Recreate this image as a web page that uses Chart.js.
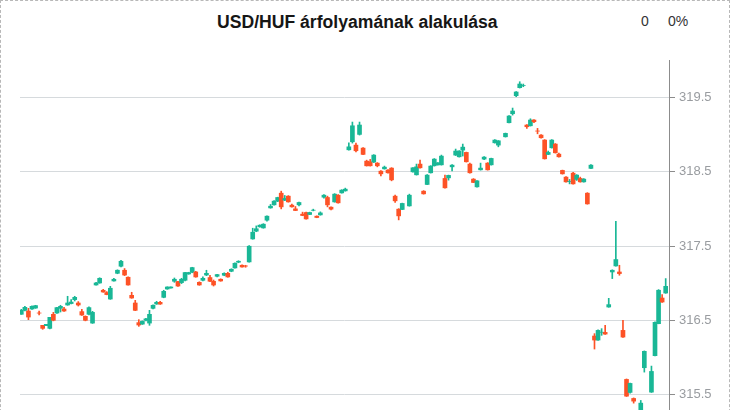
<!DOCTYPE html>
<html>
<head>
<meta charset="utf-8">
<script src="https://cdn.jsdelivr.net/npm/chart.js@4.4.1/dist/chart.umd.min.js"></script>
<style>
  html, body { margin: 0; padding: 0; background: #ffffff; overflow: hidden; }
  #frame { position: absolute; left: 0; top: 0; width: 728px; height: 470px; border: 1px dashed #b8b8b8; }
  #title { position: absolute; left: 217px; top: 12px; white-space: nowrap; font: bold 17.6px "Liberation Sans", Arial, sans-serif; color: #161616; }
  .info { position: absolute; top: 13px; white-space: nowrap; font: 14px "Liberation Sans", Arial, sans-serif; color: #333333; }
  #wrap { position: absolute; left: 0; top: 0; width: 730px; height: 460px; }
</style>
</head>
<body>
<div id="frame"></div>
<div id="title">USD/HUF árfolyamának alakulása</div>
<div class="info" style="left:641px">0</div>
<div class="info" style="left:668px">0%</div>
<div id="wrap"><canvas id="c" width="730" height="460"></canvas></div>
<script>
// ---- data ----
const openP = [316.582,316.635,316.626,316.653,316.666,316.600,316.434,316.429,316.393,316.582,
316.599,316.662,316.653,316.707,316.726,316.779,316.734,316.618,316.555,316.582,
316.464,316.976,317.003,316.905,316.874,316.787,317.030,317.133,317.228,317.174,
317.080,316.837,316.734,316.470,316.450,316.501,316.464,316.662,316.720,316.743,
316.810,316.922,316.936,317.026,317.022,317.008,317.039,317.124,317.147,317.151,
317.012,317.039,317.110,317.076,317.026,317.093,317.053,317.107,317.133,317.160,
317.205,317.282,317.241,317.232,317.286,317.595,317.699,317.757,317.743,317.847,
318.012,318.053,318.103,318.210,318.116,318.170,318.049,317.999,318.053,317.928,
317.950,317.924,317.980,317.901,317.918,318.156,318.152,318.022,318.093,318.183,
318.214,318.241,318.793,318.901,318.856,319.000,318.816,318.641,318.632,318.628,
318.614,318.506,318.537,318.520,318.547,318.170,317.995,317.991,null,318.039,
318.497,318.457,318.601,318.237,318.327,318.484,318.578,318.591,318.591,318.408,
318.416,318.564,318.722,318.699,318.789,318.758,318.601,318.399,318.295,318.524,
318.668,318.614,318.591,318.887,318.856,null,318.968,319.157,319.278,319.520,
319.628,319.655,319.126,319.116,319.193,319.046,318.991,318.924,318.731,318.820,
318.870,318.735,318.516,318.426,318.365,318.479,318.395,318.408,318.362,318.210,
318.543,316.290,316.236,316.340,316.339,316.680,317.151,317.232,317.151,316.366,
315.707,315.532,315.451,null,315.182,315.864,null,315.536,316.026,316.456,
316.801,316.868];
const highP = [316.649,316.689,316.662,316.696,316.703,316.626,316.434,316.447,316.541,316.608,
316.676,316.703,316.676,316.824,316.779,316.824,316.753,316.649,316.561,316.683,
316.622,317.012,317.073,316.918,316.887,316.958,317.066,317.180,317.308,317.197,
317.087,316.878,316.770,316.510,316.494,316.528,316.635,316.709,316.757,316.757,
316.905,316.952,316.952,317.070,317.026,317.066,317.147,317.147,317.214,317.160,
317.019,317.084,317.174,317.107,317.043,317.120,317.059,317.140,317.147,317.194,
317.275,317.302,317.248,317.241,317.504,317.739,317.770,317.786,317.800,317.907,
318.058,318.109,318.156,318.237,318.179,318.177,318.062,318.031,318.089,317.955,
317.955,317.955,317.995,317.905,317.959,318.190,318.170,318.028,318.204,318.190,
318.257,318.278,318.887,319.166,318.883,319.166,318.823,318.654,318.664,318.728,
318.621,318.513,318.574,318.526,318.553,318.183,318.002,318.076,null,318.197,
318.553,318.601,318.654,318.244,318.459,318.580,318.675,318.621,318.722,318.453,
318.453,318.594,318.803,318.782,318.870,318.762,318.614,318.406,318.380,318.614,
318.702,318.621,318.681,318.930,318.917,null,319.018,319.254,319.354,319.576,
319.708,319.677,319.133,319.210,319.200,319.081,318.998,318.930,318.776,318.930,
318.877,318.749,318.520,318.432,318.395,318.489,318.459,318.426,318.406,318.217,
318.594,316.322,316.373,316.389,316.434,316.797,317.180,317.833,317.241,316.501,
315.713,315.659,315.458,null,315.424,316.090,null,315.886,316.481,316.914,
316.847,317.062];
const lowP = [316.582,316.626,316.510,316.649,316.662,316.572,316.380,316.429,316.386,316.494,
316.595,316.613,316.622,316.703,316.723,316.761,316.693,316.568,316.494,316.575,
316.460,316.972,316.999,316.878,316.844,316.783,317.026,317.127,317.218,317.102,
316.972,316.797,316.631,316.420,316.446,316.494,316.434,316.655,316.716,316.716,
316.804,316.918,316.932,317.012,316.958,316.995,317.032,317.120,317.140,317.080,
316.972,317.032,317.102,317.019,316.962,317.086,317.026,317.100,317.080,317.154,
317.201,317.275,317.214,317.214,317.282,317.591,317.692,317.753,317.739,317.833,
318.008,318.048,318.096,317.999,318.109,318.089,318.022,317.975,318.039,317.907,
317.860,317.921,317.972,317.880,317.914,318.143,318.026,317.985,318.089,318.076,
318.210,318.237,318.789,318.883,318.766,318.991,318.728,318.574,318.574,318.621,
318.564,318.443,318.533,318.480,318.376,318.085,317.851,317.988,null,318.035,
318.493,318.453,318.547,318.197,318.324,318.480,318.574,318.587,318.587,318.278,
318.385,318.510,318.716,318.695,318.709,318.628,318.480,318.351,318.291,318.520,
318.661,318.520,318.587,318.883,318.833,null,318.964,319.153,319.260,319.506,
319.623,319.641,319.081,319.112,319.157,319.008,318.951,318.668,318.728,318.816,
318.749,318.695,318.466,318.358,318.335,318.331,318.381,318.358,318.358,318.062,
318.539,316.115,316.232,316.299,316.312,316.676,317.062,317.228,317.107,316.272,
315.478,315.522,315.388,null,315.155,315.805,null,315.532,316.023,316.454,
316.743,316.864];
const closeP = [316.635,316.676,316.545,316.689,316.699,316.598,316.393,316.447,316.541,316.501,
316.672,316.689,316.626,316.734,316.747,316.810,316.707,316.572,316.501,316.672,
316.608,317.003,317.066,316.882,316.847,316.932,317.053,317.174,317.295,317.110,
316.976,316.801,316.635,316.438,316.487,316.521,316.582,316.703,316.743,316.720,
316.891,316.949,316.949,317.053,316.962,317.053,317.143,317.143,317.210,317.084,
316.976,317.066,317.133,317.026,316.976,317.116,317.030,317.133,317.084,317.187,
317.268,317.295,317.218,317.230,317.497,317.685,317.732,317.780,317.793,317.901,
318.035,318.103,318.152,318.026,318.139,318.093,318.026,317.977,318.085,317.910,
317.864,317.950,317.982,317.883,317.945,318.183,318.053,317.995,318.197,318.080,
318.251,318.264,318.833,319.116,318.780,319.126,318.731,318.578,318.578,318.722,
318.578,318.470,318.560,318.484,318.389,318.107,317.905,318.072,null,318.183,
318.551,318.564,318.551,318.201,318.453,318.574,318.668,318.618,318.708,318.282,
318.449,318.587,318.776,318.776,318.829,318.632,318.484,318.354,318.376,318.547,
318.695,318.524,318.677,318.924,318.914,null,319.014,319.247,319.314,319.570,
319.677,319.657,319.103,319.193,319.170,319.044,318.955,318.672,318.758,318.924,
318.753,318.699,318.470,318.362,318.367,318.335,318.453,318.362,318.399,318.066,
318.587,316.236,316.366,316.342,316.316,316.712,317.174,317.318,317.129,316.276,
315.482,315.653,315.415,null,315.388,316.084,null,315.814,316.474,316.905,
316.747,316.958];
const categories = openP.map((_, i) => i + 1);   // one slot per trading period
const yTicks = [315.5, 316.5, 317.5, 318.5, 319.5];
const yTickLabels = ['315.5', '316.5', '317.5', '318.5', '319.5'];
const yMin = 315, yMax = 320;

// ---- styles ----
const UP = '#19b796', DOWN = '#fd5226';

const bodies = [], wicks = [], bodyCol = [], wickCol = [];
categories.forEach((c, i) => {
  if (openP[i] == null) return;
  const col = closeP[i] >= openP[i] ? UP : DOWN;
  bodies.push({ x: i, y: [openP[i], closeP[i]] });
  wicks.push({ x: i, y: [lowP[i], highP[i]] });
  bodyCol.push(col); wickCol.push(col);
});

new Chart(document.getElementById('c'), {
  type: 'bar',
  data: {
    labels: categories,
    datasets: [
      { data: bodies, backgroundColor: bodyCol, barThickness: 4, grouped: false, borderWidth: 0 },
      { data: wicks, backgroundColor: wickCol, barThickness: 1, grouped: false, borderWidth: 0 }
    ]
  },
  options: {
    responsive: false,
    animation: false,
    events: [],
    layout: { padding: { left: 20, top: 60, right: 0, bottom: 28 } },
    plugins: { legend: { display: false }, tooltip: { enabled: false }, title: { display: false } },
    scales: {
      x: { type: 'linear', min: -0.37, max: categories.length - 1 + 0.93, display: false, offset: false },
      y: {
        position: 'right', min: yMin, max: yMax,
        afterBuildTicks: s => { s.ticks = yTicks.map(v => ({ value: v })); },
        afterFit: s => { s.width = 61; },
        grid: { color: '#d6dadd', tickColor: '#8c8c8c', tickLength: 6, drawTicks: true },
        border: { color: '#8c8c8c' },
        ticks: {
          color: '#999ca0', padding: 4,
          font: { size: 13, family: '"Liberation Sans", Arial, sans-serif' },
          callback: (v) => yTickLabels[yTicks.indexOf(v)]
        }
      }
    }
  }
});
</script>
</body>
</html>
